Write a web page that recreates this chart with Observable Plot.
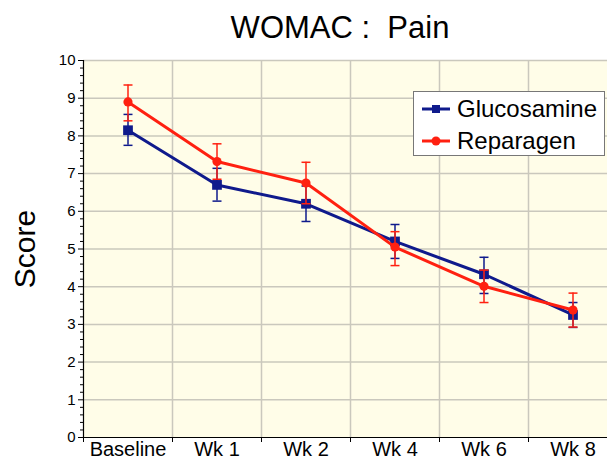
<!DOCTYPE html>
<html>
<head>
<meta charset="utf-8">
<script src="https://cdn.jsdelivr.net/npm/d3@7"></script>
<script src="https://cdn.jsdelivr.net/npm/@observablehq/plot@0.6"></script>
<style>
  html, body { margin: 0; padding: 0; background: #fff; }
  body { font-family: "Liberation Sans", Arial, Helvetica, sans-serif; }
  #wrap { position: relative; width: 607px; height: 462px; overflow: hidden; }
  #title { position: absolute; top: 12px; left: 340px; transform: translateX(-50%);
           font-size: 31px; line-height: 31px; white-space: pre; color: #000; }
  #legend { position: absolute; left: 413px; top: 91px; width: 192px; height: 65px;
            background: #fff; border: 1px solid #777; box-sizing: border-box; }
  .lrow { position: absolute; left: 8px; height: 30px; display: flex; align-items: center;
          font-size: 24px; color: #000; white-space: nowrap; }
  .lrow svg { margin-right: 7px; flex: none; }
  #chart svg { display: block; }
</style>
</head>
<body>
<div id="wrap">
  <div id="chart"></div>
  <div id="title">WOMAC :  Pain</div>
  <div id="legend"></div>
</div>
<script>
const categories = ["Baseline", "Wk 1", "Wk 2", "Wk 4", "Wk 6", "Wk 8"];
const seriesNames = ["Glucosamine", "Reparagen"];
const glucosamine = [8.15, 6.70, 6.20, 5.20, 4.33, 3.25];
const glucosamineLow = [7.75, 6.27, 5.73, 4.75, 3.82, 2.92];
const glucosamineHigh = [8.57, 7.14, 6.67, 5.65, 4.78, 3.58];
const reparagen = [8.90, 7.32, 6.75, 5.05, 4.01, 3.38];
const reparagenLow = [8.40, 6.85, 6.20, 4.56, 3.58, 2.93];
const reparagenHigh = [9.35, 7.79, 7.30, 5.46, 4.44, 3.83];
const yTicks = [0, 1, 2, 3, 4, 5, 6, 7, 8, 9, 10];

const colors = { Glucosamine: "#0f1a8c", Reparagen: "#ff2010" };

const build = (name, v, lo, hi) => categories.map((c, i) => ({ series: name, cat: c, i, v: v[i], lo: lo[i], hi: hi[i] }));
const gData = build("Glucosamine", glucosamine, glucosamineLow, glucosamineHigh);
const rData = build("Reparagen", reparagen, reparagenLow, reparagenHigh);

const capSymbol = { draw(ctx, size) { const r = Math.sqrt(size / Math.PI); ctx.moveTo(-r, 0); ctx.lineTo(r, 0); } };
const minorTicks = d3.range(0, 50).map(k => k * 0.2).filter(t => Math.abs(t - Math.round(t)) > 1e-6);
const boundaries = d3.range(-0.5, categories.length - 0.5, 1);
const centers = d3.range(categories.length);

function seriesMarks(data, name, symbol, r) {
  const c = colors[name];
  return [
    Plot.line(data, { x: "i", y: "v", stroke: c, strokeWidth: 3 }),
    Plot.ruleX(data, { x: "i", y1: "lo", y2: "hi", stroke: c, strokeWidth: 1.5 }),
    Plot.dot(data, { x: "i", y: "lo", symbol: capSymbol, r: 4.5, stroke: c, strokeWidth: 1.5 }),
    Plot.dot(data, { x: "i", y: "hi", symbol: capSymbol, r: 4.5, stroke: c, strokeWidth: 1.5 }),
    Plot.dot(data, { x: "i", y: "v", symbol, r, fill: c, stroke: c, strokeWidth: 0 })
  ];
}

const chart = Plot.plot({
  width: 607,
  height: 462,
  marginLeft: 83,
  marginRight: 0,
  marginTop: 60,
  marginBottom: 25,
  style: { fontFamily: "'Liberation Sans', Arial, Helvetica, sans-serif", color: "#000", background: "#fff", overflow: "hidden" },
  x: { type: "linear", domain: [-0.5, categories.length - 0.5], range: [83, 617] },
  y: { domain: [0, 10] },
  marks: [
    Plot.frame({ fill: "#fffde8", stroke: null }),
    Plot.ruleY(yTicks.filter(t => t > 0), { stroke: "#cac8bd", strokeWidth: 1.5 }),
    Plot.ruleX(boundaries.filter(b => b > -0.5), { stroke: "#cac8bd", strokeWidth: 1.5 }),
    ...seriesMarks(gData, "Glucosamine", "square", 5.5),
    ...seriesMarks(rData, "Reparagen", "circle", 4.6),
    Plot.ruleY([0], { stroke: "#000", strokeWidth: 1.2 }),
    Plot.ruleX([-0.5], { stroke: "#000", strokeWidth: 1.2 }),
    Plot.axisY({ ticks: yTicks, tickSize: 5, tickPadding: 3, fontSize: 15, label: null, tickFormat: d => String(d) }),
    Plot.axisY({ ticks: minorTicks, tickSize: 3, label: null, tickFormat: () => "" }),
    Plot.axisX({ ticks: boundaries, tickSize: 5, label: null, tickFormat: () => "" }),
    Plot.axisX({ ticks: centers, tickSize: 0, tickPadding: 4, fontSize: 20, label: null, tickFormat: i => categories[i] }),
    Plot.text(["Score"], { frameAnchor: "left", textAnchor: "middle", rotate: -90, dx: -58, fontSize: 30, fill: "#000" })
  ]
});
document.getElementById("chart").appendChild(chart);

// Legend
const legend = document.getElementById("legend");
seriesNames.forEach((name, k) => {
  const row = document.createElement("div");
  row.className = "lrow";
  row.style.top = (2 + k * 32) + "px";
  const c = colors[name];
  const marker = name === "Glucosamine"
    ? `<rect x="10" y="4" width="8" height="8" fill="${c}"/>`
    : `<circle cx="14" cy="8" r="4.5" fill="${c}"/>`;
  row.innerHTML = `<svg width="28" height="16"><line x1="0" y1="8" x2="28" y2="8" stroke="${c}" stroke-width="3"/>${marker}</svg><span>${name}</span>`;
  legend.appendChild(row);
});
</script>
</body>
</html>
